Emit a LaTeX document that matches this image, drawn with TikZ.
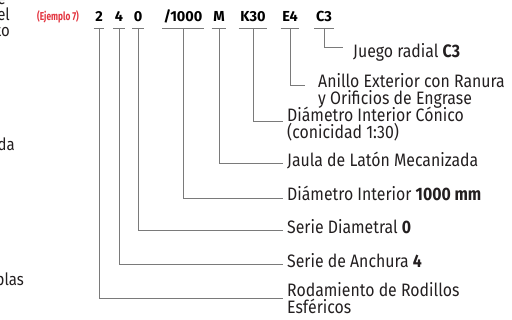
\documentclass[tikz,border=0pt]{standalone}
\usepackage{fontspec}
\setmainfont{Fira Sans}[FakeStretch=0.88]
\newfontfamily\codefont{Fira Sans}
\newfontfamily\redfont{Fira Sans}[FakeStretch=0.72]
\usetikzlibrary{calc}
\definecolor{txt}{HTML}{231F20}
\definecolor{ln}{HTML}{7A7A7A}
\definecolor{rojo}{HTML}{E3343F}
\begin{document}
\begin{tikzpicture}[x=1pt,y=-1pt,
  code/.style={font=\codefont\fontsize{14.5}{16}\selectfont\bfseries, text=black, inner xsep=1.5pt, inner ysep=0pt, anchor=base},
  lab/.style={font=\fontsize{18}{17}\selectfont, text=txt, inner xsep=4pt, inner ysep=0pt, anchor=base west, align=left},
  frag/.style={font=\fontsize{17}{16}\selectfont, text=txt, inner sep=0pt, anchor=base east},
  conn/.style={draw=ln, line width=0.9pt},
]
\useasboundingbox (0,0) rectangle (512,320);
\clip (0,0) rectangle (512,320);
% left fragments
\node[frag] (f1) at (6,5) {e};
\node[frag] (f2) at (10,21) {el};
\node[frag] (f3) at (10,37) {to};
\node[frag] (f4) at (15,151) {da};
\node[frag] (f5) at (24,286) {plas};
\node[font=\redfont\fontsize{11.5}{12}\selectfont\bfseries, text=rojo, inner sep=0pt, anchor=base west] (ej) at (37,21) {(Ejemplo 7)};
% codes
\node[code] (c2) at (99,22) {2};
\node[code] (c4) at (119,22) {4};
\node[code] (c0) at (138,22) {0};
\node[code] (c1000) at (183,22) {/1000};
\node[code] (cM) at (219,22) {M};
\node[code] (cK) at (253,22) {K30};
\node[code] (cE) at (290,22) {E4};
\node[code] (cC) at (324,22) {C3};
% labels (multi-line nodes: base = last line)
\node[lab] (lC) at (349,58) {Juego radial \textbf{C3}};
\node[lab] (lE) at (314,105) {Anillo Exterior con Ranura\\y Orificios de Engrase};
\node[lab] (lK) at (283,139) {Diámetro Interior Cónico\\(conicidad 1:30)};
\node[lab] (lM) at (283,167) {Jaula de Latón Mecanizada};
\node[lab] (l1000) at (283,201) {Diámetro Interior \textbf{1000 mm}};
\node[lab] (l0) at (283,234) {Serie Diametral \textbf{0}};
\node[lab] (l4) at (283,268) {Serie de Anchura \textbf{4}};
\node[lab] (l2) at (283,314) {Rodamiento de Rodillos\\Esféricos};
% connectors
\foreach \c/\l/\dy/\dx in {c2/l2/-16/0, c4/l4/-4/0, c0/l0/-4/0, c1000/l1000/-3/0, cM/lM/-4/0, cK/lK/-18/0, cE/lE/-20/-9, cC/lC/-11/-6}{
  \draw[conn] ($(\c.base west)+(0,6)$) -- ($(\c.base east)+(0,6)$);
  \draw[conn] ($(\c.base)+(0,6)$) |- ($(\l.base west)+(\dx,\dy)$);
}
\end{tikzpicture}
\end{document}
